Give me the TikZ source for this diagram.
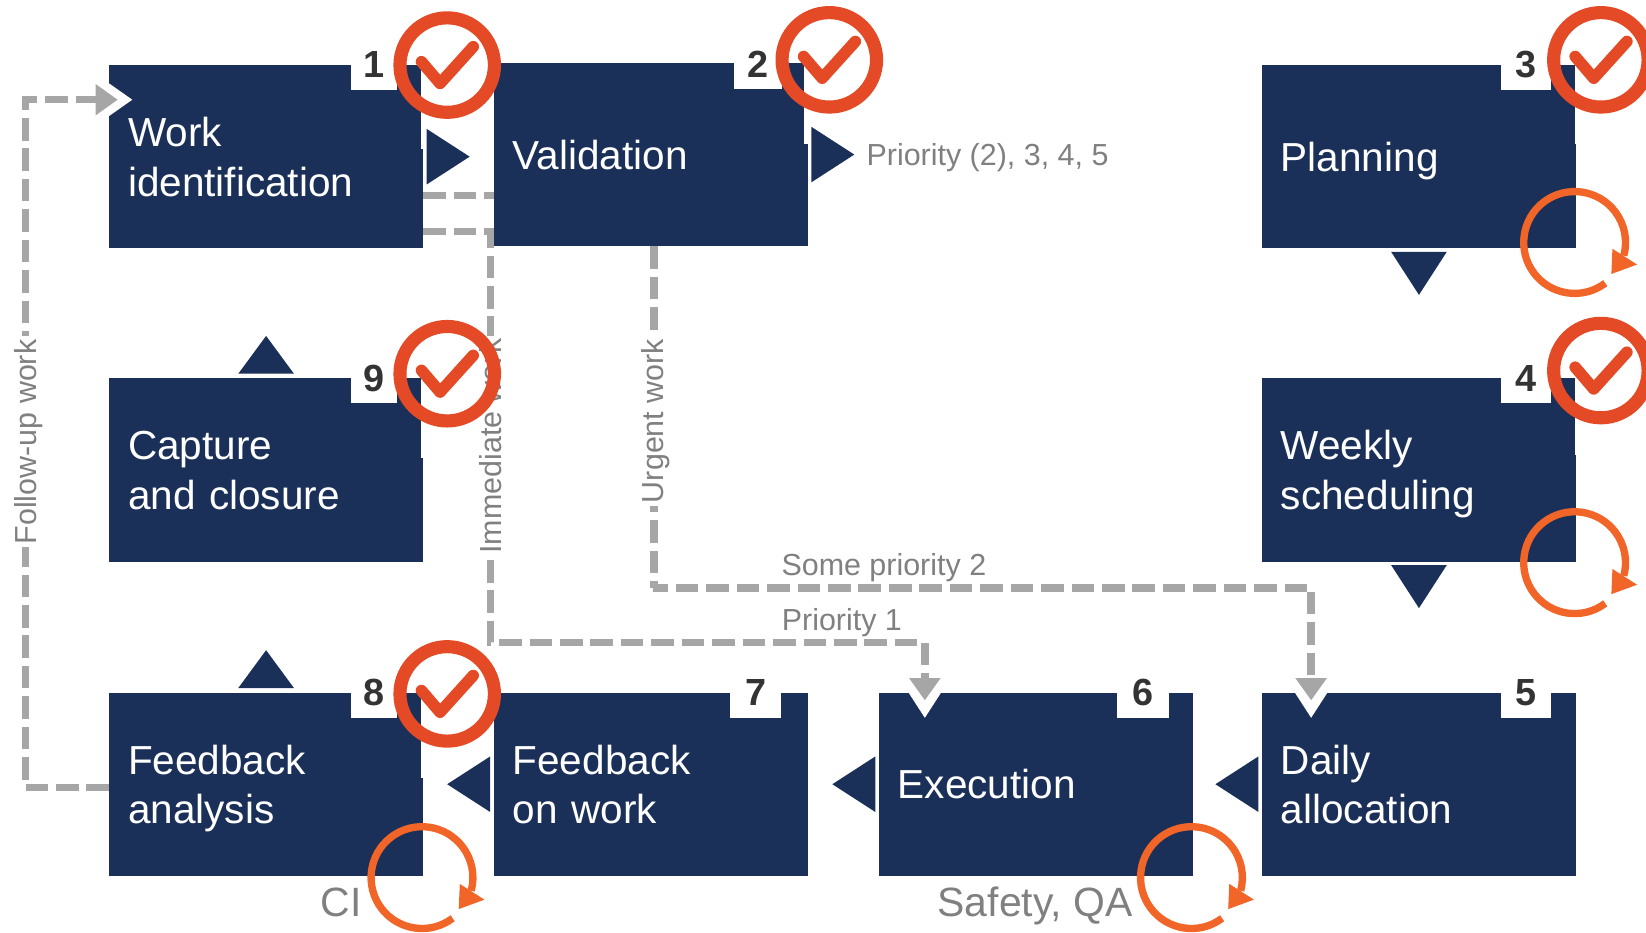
\documentclass[tikz,border=0pt]{standalone}
\usepackage{fontspec}
\setmainfont{Liberation Sans}
\usetikzlibrary{shapes.geometric}
\usetikzlibrary{arrows.meta}
\definecolor{navybox}{HTML}{1A3059}
\definecolor{checkred}{HTML}{E44A26}
\definecolor{looporange}{HTML}{F26528}
\definecolor{dashgray}{HTML}{A6A6A6}
\definecolor{labelgray}{HTML}{808080}
\definecolor{numgray}{HTML}{333333}

\begin{document}
\begin{tikzpicture}[x=1pt,y=-1pt,
  stepbox/.style={rectangle,fill=navybox,text=white,minimum width=299pt,minimum height=174.5pt,inner sep=0pt,text width=263pt,align=left,font=\fontsize{38.6}{47}\selectfont,execute at begin node={\rule{0pt}{42pt}},execute at end node={\rule[-14pt]{0pt}{14pt}}},
  numtab/.style={rectangle,fill=white,text=numgray,minimum width=47pt,minimum height=48pt,inner sep=0pt,font=\fontsize{36}{36}\selectfont\bfseries},
  tri/.style={isosceles triangle,isosceles triangle stretches,fill=navybox,inner sep=0pt,minimum width=53pt,minimum height=41pt},
  notch/.style={isosceles triangle,isosceles triangle stretches,fill=white,inner sep=0pt,minimum width=31pt,minimum height=24pt},
  dashline/.style={draw=dashgray,line width=7pt,dash pattern=on 21.5pt off 7.5pt},
  headline/.style={dashline,-{Triangle[length=21pt,width=30pt,fill=dashgray,color=dashgray,line width=0pt]}},
  lineword/.style={text=labelgray,inner sep=0pt,font=\fontsize{29}{30}\selectfont},
  sideword/.style={text=labelgray,inner sep=0pt,font=\fontsize{39}{40}\selectfont},
  check/.pic={
    \fill [white] (-24.5,0) rectangle (-20,80);
    \draw [checkred,line width=12.5pt] (0,0) circle (45);
    \draw [checkred,line width=11pt,line cap=round,line join=round] (-24.5,-3.2) -- (-6.8,17.5) -- (24.8,-17.5);
  },
  cyclemark/.pic={
    \draw [looporange,line width=7pt] (53:48.5) arc [start angle=53,end angle=375,radius=48.5];
    \fill [looporange] (36,6) -- (59.5,21) -- (35,30) -- cycle;
  }]
\clip (0,0) rectangle (1568,888);

\node [stepbox] (workid) at (253.5,149.25) {Work\\identification};
\node [stepbox,right=67pt,yshift=2pt,at=(workid.east)] (validation) {Validation};
\node [stepbox,below=123.5pt,at=(workid.south)] (capture) {Capture\\and closure};
\node [stepbox,below=124.5pt,at=(capture.south)] (analysis) {Feedback\\analysis};
\node [stepbox,right=67pt,at=(analysis.east)] (onwork) {Feedback\\on work};
\node [stepbox,right=67.5pt,at=(onwork.east)] (execution) {Execution};
\node [stepbox,right=65.5pt,at=(execution.east)] (daily) {Daily\\allocation};
\node [stepbox,above=124.5pt,at=(daily.north)] (weekly) {Weekly\\scheduling};
\node [stepbox,above=123.5pt,at=(weekly.north)] (planning) {Planning};

\node [numtab,minimum width=44pt,left=25pt,at=(workid.north east)] (num1) {1\hspace{4pt}};
\node [numtab,minimum width=46pt,left=24pt,yshift=-1pt,at=(validation.north east)] (num2) {2};
\node [numtab,left=24pt,at=(planning.north east)] (num3) {3};
\node [numtab,left=24pt,at=(weekly.north east)] (num4) {4};
\node [numtab,left=24pt,at=(daily.north east)] (num5) {5};
\node [numtab,minimum width=49pt,left=23pt,at=(execution.north east)] (num6) {6};
\node [numtab,minimum width=49pt,left=25pt,at=(onwork.north east)] (num7) {7};
\node [numtab,minimum width=44pt,left=25pt,at=(analysis.north east)] (num8) {8\hspace{4pt}};
\node [numtab,minimum width=44pt,left=25pt,at=(capture.north east)] (num9) {9\hspace{4pt}};

\node [tri,right=3pt,at=(workid.east)] (tri1) {};
\node [tri,right=3pt,at=(validation.east)] (tri2) {};
\node [tri,shape border rotate=-90,below=3pt,at=(planning.south)] (tri3) {};
\node [tri,shape border rotate=-90,below=3pt,at=(weekly.south)] (tri4) {};
\node [tri,shape border rotate=180,left=3pt,at=(daily.west)] (tri5) {};
\node [tri,shape border rotate=180,left=3pt,at=(execution.west)] (tri6) {};
\node [tri,shape border rotate=180,left=3pt,at=(onwork.west)] (tri7) {};
\node [tri,minimum height=36pt,shape border rotate=90,above=4pt,at=(analysis.north)] (tri8) {};
\node [tri,minimum height=36pt,shape border rotate=90,above=4pt,at=(capture.north)] (tri9) {};

\coordinate [below=37pt,at=(workid.east)] (idout1);
\coordinate [below=71pt,at=(workid.east)] (idout2);
\coordinate [below=3pt,at=(analysis.west)] (analysisout);
\coordinate [right=3pt,at=(validation.south)] (urgentout);
\coordinate (immturn) at (467,612);
\coordinate (urgentturn) at (622,560);
\coordinate (followturn) at (24,95);
\coordinate (followin) at (112,95);
\coordinate (execin) at (881,667);
\coordinate (dailyin) at (1249,667);

\node [notch,minimum height=22pt,at=(workid.west |- followin),anchor=west] (notchid) {};
\node [notch,shape border rotate=-90,at=(execin |- execution.north),anchor=north] (notchexec) {};
\node [notch,shape border rotate=-90,at=(dailyin |- daily.north),anchor=north] (notchdaily) {};

\draw [dashline] (idout1) -- (idout1 -| validation.west);
\draw [headline] (idout2) -| (immturn) -| (execin);
\draw [headline] (urgentout) |- (urgentturn) -| (dailyin);
\draw [headline] (analysisout) -| (followturn) -- (followin);

\node [lineword,fill=white,rotate=90,inner xsep=3pt] (followword) at (27,421) {Follow-up work};
\node [lineword,fill=white,rotate=90,inner xsep=3pt] (immword) at (467,425) {Immediate work};
\node [lineword,fill=white,rotate=90,inner xsep=3pt] (urgentword) at (625,401) {Urgent work};
\node [lineword,anchor=west,at=(tri2.east),xshift=11pt,yshift=-3pt] (priorityword) {Priority (2), 3, 4, 5};
\node [lineword] (someword) at (842,541) {Some priority 2};
\node [lineword] (oneword) at (802,593) {Priority 1};
\node [sideword] (ciword) at (325,860) {CI};
\node [sideword] (safetyword) at (986,863) {Safety, QA};

\pic at (426,62) {check};
\pic at (790,57) {check};
\pic at (1525,57) {check};
\pic at (1525,353) {check};
\pic at (426,356) {check};
\pic at (426,661) {check};

\pic at (1500,231) {cyclemark};
\pic at (1500,536) {cyclemark};
\pic at (402,836) {cyclemark};
\pic at (1135,836) {cyclemark};
\end{tikzpicture}
\end{document}
